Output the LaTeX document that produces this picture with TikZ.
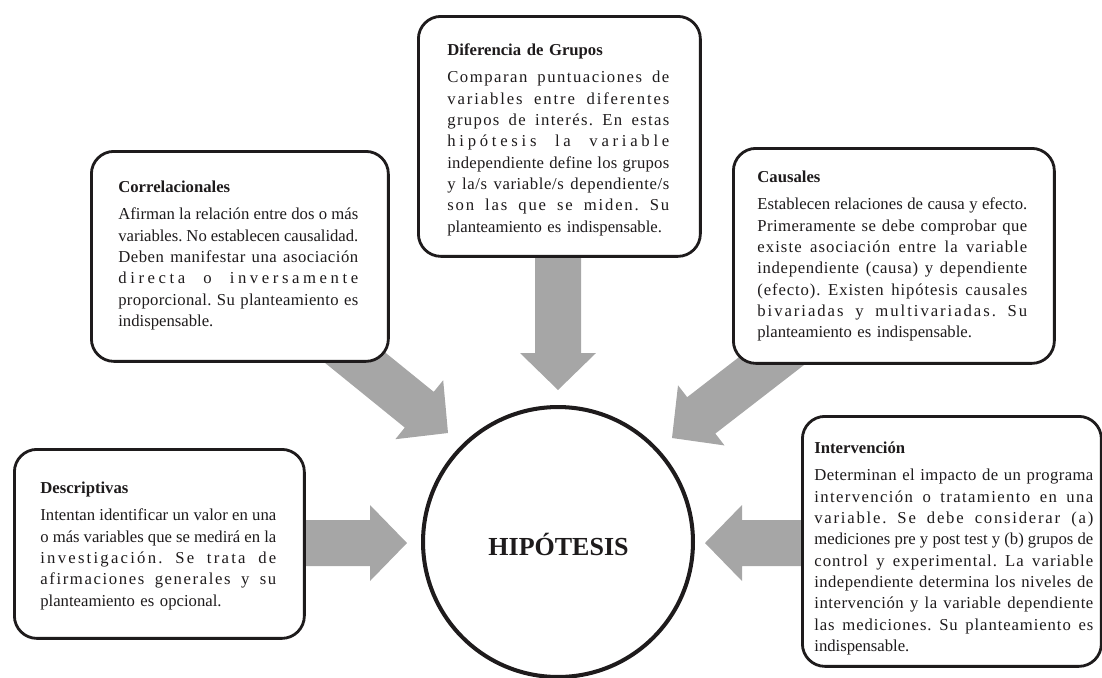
\documentclass[tikz,border=0pt]{standalone}
\usepackage{fontspec}
\setmainfont{Liberation Serif}
\usetikzlibrary{calc}
\pgfdeclarelayer{background}
\pgfsetlayers{background,main}
\definecolor{arrowgray}{RGB}{166,166,166}
\definecolor{ink}{RGB}{30,27,28}
\ExplSyntaxOn
\cs_new_protected:Npn \jl #1
  {
    \par
    \hbox_to_wd:nn { \linewidth }
      {
        \str_map_inline:nn { #1 }
          {
            \str_if_eq:nnTF { ##1 } { ~ }
              { \hskip 0.25em plus 1fil minus 0.06em }
              { ##1 \hskip 0pt plus 0.35fil minus 0.015em }
          }
        \unskip
      }
  }
\ExplSyntaxOff
\newcommand\jlast[1]{\par\noindent #1\par}
\newcommand\bodyfont{\fontsize{9.5}{12.13}\selectfont}
\newcommand\blockarrow[2]{%
  \path ($(#2)!0.74cm!(#1)$) coordinate (hb);
  \fill[arrowgray] (#2)
    -- ($(hb)!0.76cm!90:(#2)$)
    -- ($(hb)!0.46cm!90:(#2)$)
    -- ($(#1)!0.46cm!90:(#2)$)
    -- ($(#1)!0.46cm!-90:(#2)$)
    -- ($(hb)!0.46cm!-90:(#2)$)
    -- ($(hb)!0.76cm!-90:(#2)$)
    -- cycle;}
\begin{document}
\begin{tikzpicture}[x=0.02cm,y=-0.02cm,
  box/.style={draw=ink, line width=1.6pt, rounded corners=0.45cm, fill=white,
    inner sep=0pt, anchor=north west},
  txt/.style={anchor=base west, inner sep=0pt, align=left, font=\bodyfont, text=ink}]
\useasboundingbox (0,0) rectangle (1102,677);
\clip (0,0) rectangle (1102,677);

% boxes
\node[box, minimum width=5.64cm, minimum height=4.8cm] (dif) at (417,15) {};
\node[box, minimum width=5.94cm, minimum height=4.2cm] (cor) at (90,150) {};
\node[box, minimum width=6.42cm, minimum height=4.3cm] (cau) at (732,147) {};
\node[box, minimum width=5.8cm, minimum height=3.78cm] (des) at (13,448) {};
\node[box, minimum width=5.98cm, minimum height=5.0cm] (int) at (801,415) {};

% central circle
\node[circle, draw=ink, line width=2.3pt, minimum size=5.4cm, inner sep=0pt] (hyp) at (558,542) {};
\node[anchor=base, inner sep=0pt, text=ink, font=\fontsize{14.8}{17}\selectfont\bfseries] (hyptxt) at (558.5,555) {HIPÓTESIS};

% texts
\node[txt, text width=4.44cm] (diftxt) at (447,55) {%
{\bfseries Diferencia de Grupos}\par\vspace{3.7pt}%
\jl{Comparan puntuaciones de}%
\jl{variables entre diferentes}%
\jl{grupos de interés. En estas}%
\jl{hipótesis la variable}%
\jl{independiente define los grupos}%
\jl{y la/s variable/s dependiente/s}%
\jl{son las que se miden. Su}%
\jlast{planteamiento es indispensable.}};

\node[txt, text width=4.8cm] (cortxt) at (118,192) {%
{\bfseries Correlacionales}\par\vspace{3.7pt}%
\jl{Afirman la relación entre dos o más}%
\jl{variables. No establecen causalidad.}%
\jl{Deben manifestar una asociación}%
\jl{directa o inversamente}%
\jl{proporcional. Su planteamiento es}%
\jlast{indispensable.}};

\node[txt, text width=5.4cm] (cautxt) at (757,182) {%
{\bfseries Causales}\par\vspace{3.7pt}%
\jl{Establecen relaciones de causa y efecto.}%
\jl{Primeramente se debe comprobar que}%
\jl{existe asociación entre la variable}%
\jl{independiente (causa) y dependiente}%
\jl{(efecto). Existen hipótesis causales}%
\jl{bivariadas y multivariadas. Su}%
\jlast{planteamiento es indispensable.}};

\node[txt, text width=4.72cm] (destxt) at (40,493) {%
{\bfseries Descriptivas}\par\vspace{3.7pt}%
\jl{Intentan identificar un valor en una}%
\jl{o más variables que se medirá en la}%
\jl{investigación. Se trata de}%
\jl{afirmaciones generales y su}%
\jlast{planteamiento es opcional.}};

\node[txt, text width=5.58cm] (inttxt) at (814,453) {%
{\bfseries Intervención}\par\vspace{3.7pt}%
\jl{Determinan el impacto de un programa}%
\jl{intervención o tratamiento en una}%
\jl{variable. Se debe considerar (a)}%
\jl{mediciones pre y post test y (b) grupos de}%
\jl{control y experimental. La variable}%
\jl{independiente determina los niveles de}%
\jl{intervención y la variable dependiente}%
\jl{las mediciones. Su planteamiento es}%
\jlast{indispensable.}};

% arrows (behind the boxes)
\coordinate (a1s) at (300,313); \coordinate (a1e) at (448,433);
\coordinate (a2s) at (558,230); \coordinate (a2e) at (558,390);
\coordinate (a3s) at (822,322); \coordinate (a3e) at (672,438);
\coordinate (a4s) at (280,543); \coordinate (a4e) at (407,543);
\coordinate (a5s) at (830,543); \coordinate (a5e) at (705,543);
\begin{pgfonlayer}{background}
\blockarrow{a1s}{a1e}
\blockarrow{a2s}{a2e}
\blockarrow{a3s}{a3e}
\blockarrow{a4s}{a4e}
\blockarrow{a5s}{a5e}
\end{pgfonlayer}
\end{tikzpicture}
\end{document}
